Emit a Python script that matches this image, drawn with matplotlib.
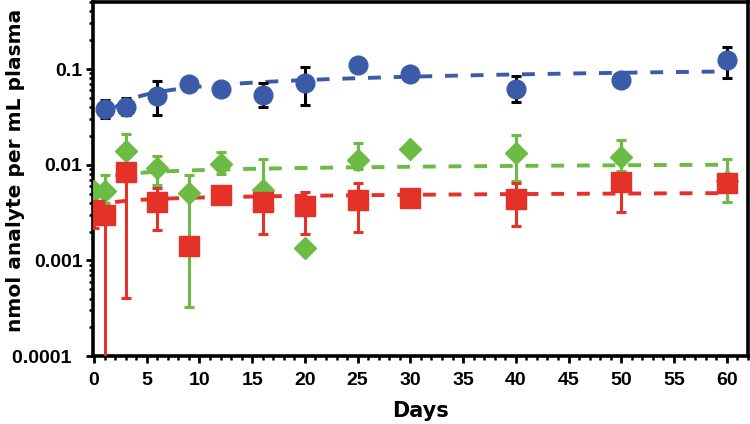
import numpy as np
import matplotlib
matplotlib.use("Agg")
import matplotlib.pyplot as plt
from matplotlib.ticker import FixedLocator, LogLocator, MultipleLocator, FuncFormatter

plt.rcParams["font.family"] = ["DejaVu Sans"]
plt.rcParams["font.weight"] = "bold"

# blue circles (black error bars)
blue_days = [1, 3, 6, 9, 12, 16, 20, 25, 30, 40, 50, 60]
blue_vals = [0.0385, 0.040, 0.0525, 0.070, 0.062, 0.054, 0.0716, 0.11, 0.089, 0.062, 0.077, 0.124]
blue_lo = [0.031, 0.033, 0.033, 0.066, 0.058, 0.040, 0.042, 0.105, 0.085, 0.045, 0.073, 0.081]
blue_hi = [0.047, 0.050, 0.075, 0.074, 0.066, 0.072, 0.105, 0.115, 0.093, 0.085, 0.081, 0.17]

# green diamonds
green_days = [0, 1, 3, 6, 9, 12, 16, 20, 25, 30, 40, 50, 60]
green_vals = [0.0053, 0.0053, 0.0138, 0.0092, 0.0051, 0.0103, 0.0055, 0.00136, 0.0111, 0.0145, 0.0132, 0.012, 0.0068]
green_lo = [0.0050, 0.0040, 0.012, 0.0062, 0.00033, 0.008, 0.0045, 0.00136, 0.009, 0.0145, 0.0068, 0.0085, 0.0041]
green_hi = [0.0056, 0.0079, 0.021, 0.0123, 0.0078, 0.0135, 0.0115, 0.00136, 0.0167, 0.0145, 0.0203, 0.018, 0.0114]

# red squares
red_days = [0, 1, 3, 6, 9, 12, 16, 20, 25, 30, 40, 50, 60]
red_vals = [0.0034, 0.0030, 0.0083, 0.0041, 0.0014, 0.0048, 0.0041, 0.0037, 0.0043, 0.0045, 0.0044, 0.0066, 0.0064]
red_lo = [0.0022, 0.00005, 0.00041, 0.0021, 0.0013, 0.0045, 0.0019, 0.0019, 0.0020, 0.0042, 0.0023, 0.0032, 0.0058]
red_hi = [0.0040, 0.0036, 0.010, 0.0057, 0.0015, 0.0052, 0.0047, 0.0052, 0.0064, 0.0048, 0.0064, 0.0075, 0.0070]

y_ticks = [0.0001, 0.001, 0.01, 0.1]
y_tick_labels = ["0.0001  ", "0.001", "0.01", "0.1"]
x_ticks = [0, 5, 10, 15, 20, 25, 30, 35, 40, 45, 50, 55, 60]

BLUE = "#3b5ba9"
GREEN = "#6bbb45"
RED = "#e43228"


def semilog_fit(days, vals):
    """least squares fit of y = a + b*ln(t) for t > 0"""
    t = np.array(days, dtype=float)
    y = np.array(vals, dtype=float)
    keep = t > 0
    b, a = np.polyfit(np.log(t[keep]), y[keep], 1)
    return a, b


fig = plt.figure(figsize=(7.5, 4.24), dpi=100)
ax = fig.add_axes([0.124, 0.160, 0.873, 0.835])

t_fit = np.linspace(2, 60, 300)
series = [
    (blue_days, blue_vals, blue_lo, blue_hi, BLUE, "o", 13.5, "black"),
    (green_days, green_vals, green_lo, green_hi, GREEN, "D", 11, GREEN),
    (red_days, red_vals, red_lo, red_hi, RED, "s", 15, RED),
]

for d, v, lo, hi, col, mk, ms, ecol in series:
    a, b = semilog_fit(d, v)
    (ln,) = ax.plot(t_fit, a + b * np.log(t_fit), color=col, lw=2.8, zorder=2)
    ln.set_dashes((3.3, 3.3))

for i, (d, v, lo, hi, col, mk, ms, ecol) in enumerate(series):
    v = np.array(v)
    yerr = [v - np.array(lo), np.array(hi) - v]
    ax.errorbar(d, v, yerr=yerr, fmt=mk, color=col, ms=ms, mec=col,
                ecolor=ecol, elinewidth=2.2, capsize=3.5, capthick=2.2,
                zorder=3 + i)

ax.set_yscale("log")
ax.set_ylim(0.0001, 0.5)
ax.set_xlim(-0.1, 62)

ax.yaxis.set_major_locator(FixedLocator(y_ticks))
ax.set_yticklabels(y_tick_labels)
ax.yaxis.set_minor_locator(LogLocator(base=10, subs=np.arange(2, 10)))
ax.yaxis.set_minor_formatter(FuncFormatter(lambda y, p: ""))
ax.xaxis.set_major_locator(FixedLocator(x_ticks))
ax.xaxis.set_minor_locator(MultipleLocator(1))

for s in ax.spines.values():
    s.set_linewidth(2.6)
ax.tick_params(which="major", direction="out", length=5, width=2, pad=2.5,
               labelsize=14, labelfontfamily="Liberation Sans")
ax.tick_params(which="minor", direction="out", length=3, width=1.8)
ax.tick_params(axis="x", which="major", pad=6.5)

ax.set_xlabel("Days", fontsize=15, fontweight="bold")
ax.set_ylabel("nmol analyte per mL plasma", fontsize=14.5, fontweight="bold")
ax.xaxis.set_label_coords(0.5, -0.155)
ax.yaxis.set_label_coords(-0.119, 0.525)
ax.xaxis.label.set_va("center")
ax.yaxis.label.set_va("center")

fig.savefig("out.png", dpi=100)
